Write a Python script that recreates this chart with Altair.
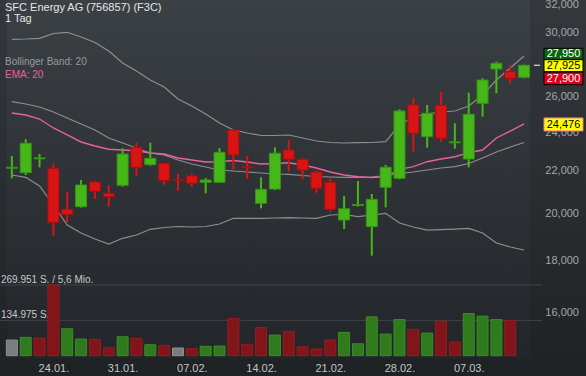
import altair as alt
import pandas as pd

# ---------------- data ----------------
dates = ["19.01.", "20.01.", "21.01.", "24.01.", "25.01.", "26.01.", "27.01.", "28.01.",
         "31.01.", "01.02.", "02.02.", "03.02.", "04.02.", "07.02.", "08.02.", "09.02.",
         "10.02.", "11.02.", "14.02.", "15.02.", "16.02.", "17.02.", "18.02.", "21.02.",
         "22.02.", "23.02.", "24.02.", "25.02.", "28.02.", "01.03.", "02.03.", "03.03.",
         "04.03.", "07.03.", "08.03.", "09.03.", "10.03.", "11.03."]

opens = [22160, 21939, 22630, 22156, 20207, 20326, 21485, 20947, 21327, 23226,
         22337, 22407, 21600, 21792, 21471, 21471, 24145, 22230, 20482, 21149,
         23085, 22608, 21973, 21471, 19727, 20380, 19434, 21231, 21664, 25541,
         23786, 25524, 23460, 22623, 25639, 27690, 27523, 27179]
highs = [22777, 23663, 22880, 22407, 21008, 21581, 21533, 21342, 23174, 23468,
         23468, 22437, 21875, 21909, 21678, 23190, 24199, 22777, 21713, 23226,
         23609, 22659, 22036, 21664, 20821, 21533, 20914, 22321, 25294, 25963,
         25541, 26297, 24512, 26256, 27118, 28147, 27940, 27960]
lows = [21664, 21826, 22206, 19045, 19626, 20280, 20680, 20326, 21260, 21777,
        22286, 21356, 21069, 21260, 20947, 21450, 22106, 21630, 20253, 21102,
        21988, 21630, 20975, 20099, 19333, 20326, 18209, 20299, 21615, 22998,
        23206, 23520, 23153, 22206, 24877, 26221, 26816, 27118]
closes = [22210, 23436, 22680, 19626, 19982, 21342, 21041, 20788, 22880, 22206,
          22659, 21560, 21560, 21423, 21581, 22967, 22829, 22180, 21136, 22916,
          22608, 22071, 21183, 20207, 20230, 20430, 20665, 22206, 25198, 23968,
          25069, 23700, 23510, 25012, 27014, 28046, 27118, 27925]

volumes = [59700, 70000, 67300, 269951, 102700, 63500, 62300, 30400, 72200, 66200,
           41800, 39500, 29300, 26600, 35700, 36900, 142200, 43300, 108000, 78700,
           92800, 34200, 25500, 59700, 89000, 45600, 148300, 82500, 138400, 100400,
           86300, 131900, 52100, 161200, 150900, 138400, 134600]

bb_upper = [29599, 29619, 29666, 29988, 30069, 29753, 29388, 28832, 28066, 27566,
            27014, 26594, 25887, 25484, 25030, 24529, 24145, 23984, 23850, 23850,
            23877, 23716, 23557, 23478, 23452, 23468, 23478, 23520, 24419, 24861,
            25030, 25142, 25198, 25484, 26121, 27014, 27752, 28511]
bb_middle = [25730, 25598, 25426, 25142, 24805, 24474, 24145, 23716, 23452, 23190,
             22931, 22829, 22572, 22372, 22221, 22071, 22022, 21973, 21924, 21875,
             21860, 21802, 21753, 21728, 21713, 21713, 21728, 21802, 21900, 21973,
             22071, 22171, 22236, 22397, 22675, 22982, 23242, 23478]
bb_lower = [21826, 21713, 21294, 20404, 19508, 19161, 18904, 18693, 18934, 19075,
            19320, 19398, 19442, 19420, 19442, 19552, 19803, 19803, 19803, 19817,
            19830, 19817, 19803, 19951, 19973, 19875, 19951, 20027, 19596, 19420,
            19289, 19310, 19332, 19362, 19161, 18735, 18567, 18442]
ema20 = [25086, 24974, 24748, 24255, 23877, 23504, 23295, 23122, 23085, 23049,
         22931, 22880, 22675, 22572, 22472, 22487, 22547, 22472, 22372, 22397,
         22437, 22321, 22171, 21973, 21826, 21743, 21703, 21743, 22106, 22236,
         22487, 22623, 22741, 22946, 23085, 23716, 24091, 24476]

x_tick_labels = ["24.01.", "31.01.", "07.02.", "14.02.", "21.02.", "28.02.", "07.03."]
price_ticks = [16000, 18000, 20000, 22000, 24000, 26000, 28000, 30000, 32000]
vol_grid = [134975, 269951]
vol_grid_labels = ["134.975 S.", "269.951 S. / 5,6 Mio."]
quote_prices = [27950, 27925, 27900, 24476]
quote_texts = ["27,950", "27,925", "27,900", "24,476"]

title_text = "SFC Energy AG (756857) (F3C)"
subtitle_text = "1 Tag"
legend_bb = "Bollinger Band: 20"
legend_ema = "EMA: 20"

# ---------------- styling ----------------
FONT = "Liberation Sans"
G_FILL, G_STROKE = "#45b719", "#379415"
R_FILL, R_STROKE = "#d81414", "#a80f10"
VG_FILL, VG_STROKE = "#2f7a1d", "#3b8d27"
VR_FILL, VR_STROKE = "#81151a", "#951d21"
VN_FILL, VN_STROKE = "#7c7c7c", "#909090"

W, H = 530, 358
xscale = alt.Scale(domain=[-0.496, 37.066], nice=False, zero=False)
pscale = alt.Scale(type="log", domain=[14472, 32329], nice=False)
vscale = alt.Scale(domain=[-8782, 1358170], nice=False, zero=False)

n = len(dates)
tick_idx = [dates.index(t) for t in x_tick_labels]
label_expr = " : ".join(f"datum.value == {i} ? '{t}'" for i, t in zip(tick_idx, x_tick_labels)) + " : ''"
xaxis = alt.Axis(values=tick_idx, labelExpr=label_expr, title=None, domain=False, ticks=False,
                 grid=False, labelColor="#c4c4c4", labelFont=FONT, labelFontSize=11,
                 labelPadding=4, zindex=1, labelOverlap=False, labelFlush=False)
X = alt.X("i:Q", scale=xscale, axis=xaxis)

cdf = pd.DataFrame({"i": range(n), "date": dates, "open": opens, "high": highs,
                    "low": lows, "close": closes})
up = cdf["close"] >= cdf["open"]
cdf["fill"] = [G_FILL if u else R_FILL for u in up]
cdf["stroke"] = [G_STROKE if u else R_STROKE for u in up]

vf, vs = [], []
for k in range(len(volumes)):
    if k == 0 or closes[k] == closes[k - 1]:
        vf.append(VN_FILL); vs.append(VN_STROKE)
    elif closes[k] > closes[k - 1]:
        vf.append(VG_FILL); vs.append(VG_STROKE)
    else:
        vf.append(VR_FILL); vs.append(VR_STROKE)
vdf = pd.DataFrame({"i": range(len(volumes)), "vol": volumes, "fill": vf, "stroke": vs})

bdf = pd.DataFrame({"i": list(range(n)) * 3, "v": bb_upper + bb_middle + bb_lower,
                    "band": ["upper"] * n + ["middle"] * n + ["lower"] * n})
edf = pd.DataFrame({"i": range(n), "v": ema20})
one = pd.DataFrame({"a": [0]})

# ---------------- background ----------------
outer_grad = alt.Gradient(gradient="linear", x1=0, x2=0, y1=0, y2=1,
                          stops=[alt.GradientStop(color="#34383c", offset=0),
                                 alt.GradientStop(color="#1f2225", offset=1)])
plot_grad = alt.Gradient(gradient="linear", x1=0, x2=0, y1=0, y2=1,
                         stops=[alt.GradientStop(color="#3b4044", offset=0),
                                alt.GradientStop(color="#2c3034", offset=0.6),
                                alt.GradientStop(color="#222529", offset=1)])
bg_outer = alt.Chart(one).mark_rect(fill=outer_grad).encode(
    x=alt.value(0), x2=alt.value(586), y=alt.value(0), y2=alt.value(376))
bg_plot = alt.Chart(one).mark_rect(fill=plot_grad).encode(
    x=alt.value(7), x2=alt.value(W), y=alt.value(0), y2=alt.value(H))

# ---------------- volume pane ----------------
vgdf = pd.DataFrame({"g": vol_grid, "label": vol_grid_labels})
vol_grid_rules = alt.Chart(vgdf).mark_rule(color="#41454a", strokeWidth=1).encode(
    y=alt.Y("g:Q", scale=vscale, axis=None), x=alt.value(0), x2=alt.value(542))
vol_grid_text = alt.Chart(vgdf).mark_text(align="left", baseline="alphabetic", dy=-2.5,
                                          fontSize=10, font=FONT, color="#c8c8c8").encode(
    y=alt.Y("g:Q", scale=vscale, axis=None), x=alt.value(1), text="label:N")
vol_bars = alt.Chart(vdf).mark_bar(size=11, strokeWidth=1).encode(
    x=X, y=alt.Y("vol:Q", scale=vscale, axis=None, stack=None),
    fill=alt.Fill("fill:N", scale=None), stroke=alt.Stroke("stroke:N", scale=None))

# ---------------- indicators ----------------
bb_lines = alt.Chart(bdf).mark_line(color="#8e8e8e", strokeWidth=1.2).encode(
    x=X, y=alt.Y("v:Q", scale=pscale, axis=None), detail="band:N")
ema_line = alt.Chart(edf).mark_line(color="#e8619e", strokeWidth=1.4).encode(
    x=X, y=alt.Y("v:Q", scale=pscale, axis=None))

# ---------------- candles ----------------
wicks = alt.Chart(cdf).mark_rule(strokeWidth=2).encode(
    x=X, y=alt.Y("low:Q", scale=pscale, axis=None), y2="high:Q",
    color=alt.Color("fill:N", scale=None))
bodies = alt.Chart(cdf).mark_bar(size=11, strokeWidth=1).encode(
    x=X, y=alt.Y("open:Q", scale=pscale, axis=None), y2="close:Q",
    fill=alt.Fill("fill:N", scale=None), stroke=alt.Stroke("stroke:N", scale=None))

# ---------------- texts ----------------
def label(txt, x, y, size, color):
    return alt.Chart(one).mark_text(align="left", baseline="alphabetic", fontSize=size,
                                    font=FONT, color=color).encode(
        x=alt.value(x), y=alt.value(y), text=alt.value(txt))

texts = [label(title_text, 5, 10.5, 11, "#e6e6e6"),
         label(subtitle_text, 5, 21.5, 11, "#e6e6e6"),
         label(legend_bb, 5, 64.5, 10, "#9a9a9a"),
         label(legend_ema, 5, 77.5, 10, "#e8619e")]

price_labels = alt.Chart(pd.DataFrame({"p": price_ticks})).mark_text(
    align="right", baseline="middle", fontSize=11, font=FONT, color="#a6a6a6").encode(
    y=alt.Y("p:Q", scale=pscale, axis=None), x=alt.value(579),
    text=alt.Text("p:Q", format=","))

# ---------------- quote boxes ----------------
box_styles = [  # (top offset, bottom offset, fill, border, text color)
    (-16.5, -5.5, "#0b650d", "#000000", "#ffffff"),
    (-5.5, 6.5, "#ffff00", "#000000", "#000000"),
    (6.5, 19.0, "#e0001b", "#000000", "#ffffff"),
    (-6.0, 7.0, "#ffff00", "#ff6fb5", "#000000"),
]
boxes = []
for p, t, (y0, y1, bg, bd, tc) in zip(quote_prices, quote_texts, box_styles):
    qdf = pd.DataFrame({"p": [p], "t": [t]})
    boxes.append(alt.Chart(qdf).mark_rect(fill=bg, stroke=bd, strokeWidth=1,
                                          yOffset=y0, y2Offset=y1).encode(
        x=alt.value(544), x2=alt.value(583),
        y=alt.Y("p:Q", scale=pscale, axis=None), y2="p:Q"))
    boxes.append(alt.Chart(qdf).mark_text(align="center", baseline="middle", fontSize=11,
                                          font=FONT, color=tc, dy=(y0 + y1) / 2 + 0.5).encode(
        x=alt.value(563.5), y=alt.Y("p:Q", scale=pscale, axis=None), text="t:N"))

last_tick = alt.Chart(pd.DataFrame({"p": [quote_prices[1]]})).mark_rule(
    color="#ffffff", strokeWidth=1).encode(
    x=alt.value(534), x2=alt.value(540), y=alt.Y("p:Q", scale=pscale, axis=None))

chart = alt.layer(
    bg_outer, bg_plot, vol_grid_rules, vol_grid_text, vol_bars,
    bb_lines, ema_line, wicks, bodies, *texts, price_labels, last_tick, *boxes
).resolve_scale(y="independent").properties(
    width=W, height=H,
    padding={"left": 0, "top": 0, "right": 56, "bottom": 18},
    autosize=alt.AutoSizeParams(type="none"),
    background="#26292d",
).configure_view(strokeWidth=0).configure(font=FONT)

chart.save("out.html", embed_options={"renderer": "svg", "actions": False})
